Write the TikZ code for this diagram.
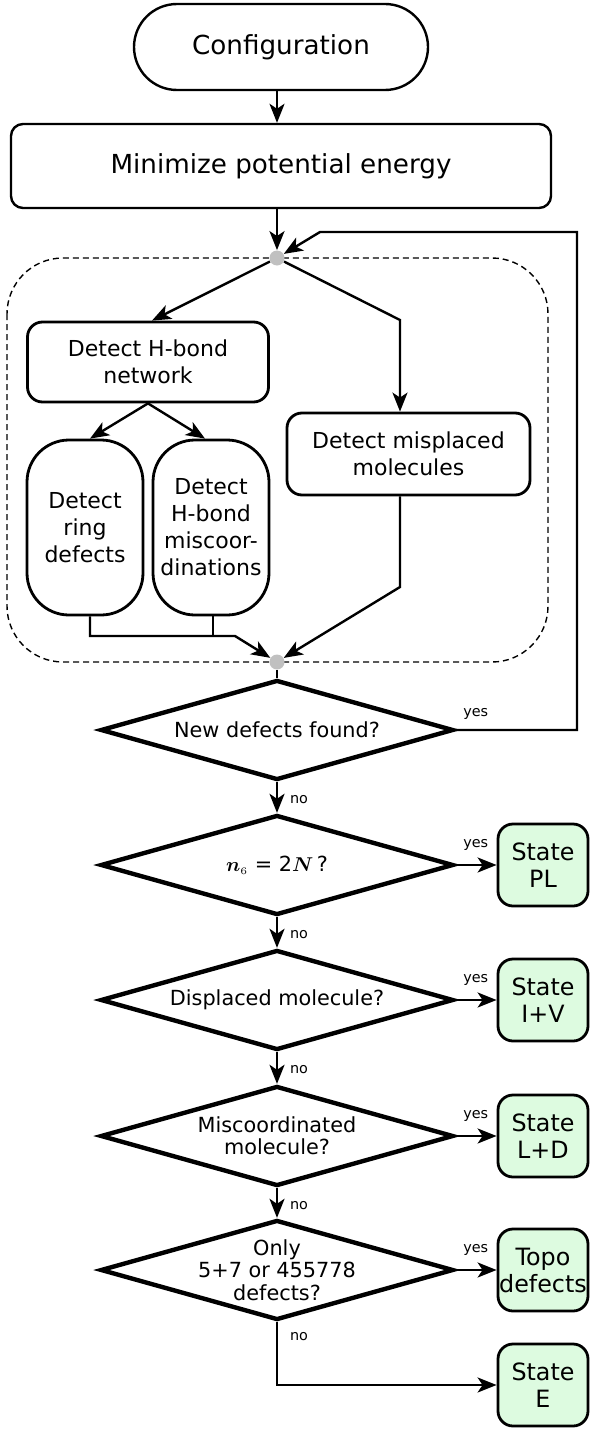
\documentclass[tikz,border=0pt]{standalone}
\usepackage{amsmath,bm}
\usepackage{fontspec}
\setmainfont{DejaVu Sans}
\usepackage{xcolor}
\usepackage{tikz}
\usetikzlibrary{shapes,arrows.meta,calc,positioning}
\definecolor{stategreen}{RGB}{221,251,224}
\definecolor{dotgray}{RGB}{192,192,192}
\newcommand{\fstop}{\fontsize{13.1}{15}\selectfont}
\newcommand{\fsstate}{\fontsize{11.9}{13.5}\selectfont}
\newcommand{\fsmid}{\fontsize{11}{13.5}\selectfont}
\newcommand{\fsdec}{\fontsize{10.4}{11.2}\selectfont}
\newcommand{\fssmall}{\fontsize{7.2}{8}\selectfont}
\tikzset{
  conn/.style={line width=1.2pt,-{Stealth[length=9.5pt,width=7.5pt,inset=2.5pt]}},
  plain/.style={line width=1.2pt},
  startbox/.style={draw,line width=1.2pt,rounded corners=21.5pt,minimum width=147pt,minimum height=43pt,font=\fstop},
  procbox/.style={draw,line width=1.2pt,rounded corners=6pt,minimum width=270pt,minimum height=42pt,font=\fstop},
  detbox/.style={draw,line width=1.4pt,rounded corners=7.5pt,align=center,font=\fsmid},
  tallbox/.style={draw,line width=1.4pt,rounded corners=21pt,align=center,font=\fsmid,minimum width=58pt,minimum height=87.5pt,inner sep=1pt},
  decision/.style={draw,diamond,line width=2.2pt,minimum width=176.5pt,minimum height=50pt,inner sep=0pt},
  dtext/.style={align=center,font=\fsdec,inner sep=0pt},
  statebox/.style={draw,line width=1.4pt,rounded corners=7.5pt,fill=stategreen,align=center,font=\fsstate,minimum width=45pt,minimum height=41pt,inner sep=0pt},
  dot/.style={circle,fill=dotgray,minimum size=7.5pt,inner sep=0pt},
  small/.style={font=\fssmall,inner sep=0pt}
}
\begin{document}
\begin{tikzpicture}[x=0.5pt,y=-0.5pt]
\useasboundingbox (0,0) rectangle (589,1429);
% detection block frame
\draw[dash pattern=on 3pt off 2pt,line width=0.7pt,rounded corners=28pt] (7,258) rectangle (548,662);

\node[startbox] (conf) at (281,47) {Configuration};
\node[procbox] (mini) at (281,166) {Minimize potential energy};
\node[dot] (top) at (277,258) {};
\node[dot] (bot) at (277,662) {};
\draw[conn] (conf.south -| top) -- (mini.north -| top);
\draw[conn] (mini.south -| top) -- (top);

% detectors
\node[detbox,minimum width=120.5pt,minimum height=40pt] (hbond) at (148,362) {Detect H-bond\\network};
\node[tallbox] (ring) at (85,527.5) {Detect\\ring\\defects};
\node[tallbox] (misc) at (211,527.5) {Detect\\H-bond\\miscoor-\\dinations};
\node[detbox,minimum width=121.5pt,minimum height=41pt] (displ) at (408.5,454) {Detect misplaced\\molecules};

\coordinate (rbend) at (400,320);
\coordinate (lbend) at (400,587);
\coordinate (join) at (235,636);
\draw[conn] (top) -- ($(hbond.north)+(4,0)$);
\draw[conn] (top) -- (rbend) -- (rbend |- displ.north);
\draw[conn] (hbond.south) -- ($(ring.north)+(5,0)$);
\draw[conn] (hbond.south) -- ($(misc.north)+(-6,0)$);
\draw[conn] ($(ring.south)+(5,0)$) |- (join) -- (bot);
\draw[plain] ($(misc.south)+(2,0)$) -- ($(misc.south |- join)+(2,0)$);
\draw[conn] (displ.south -| lbend) -- (lbend) -- (bot);

% decisions
\node[decision] (d1) at (277,730) {};
\node[dtext] (d1t) at (d1) {New defects found?};
\node[decision] (d2) at (277,865) {};
\node[dtext] (d2t) at (d2) {$\bm{n}_{\scriptscriptstyle 6}$ = 2$\bm{N}$\,?};
\node[decision] (d3) at (277,1000) {};
\node[dtext] (d3t) at (d3) {Displaced molecule?};
\node[decision] (d4) at (277,1136) {};
\node[dtext] (d4t) at (d4) {Miscoordinated\\molecule?};
\node[decision] (d5) at (277,1270) {};
\node[dtext] (d5t) at (d5) {Only\\5+7 or 455778\\defects?};
\draw[plain] (bot) -- (d1.north);

% loop back
\draw[conn] (d1.east) -| (577,232) -- (320,232) -- (top);
\node[small] (yes1) at ($(d1.east)+(20,-16)$) {yes};

% states
\node[statebox] (pl) at (543,865) {State\\PL};
\node[statebox] (iv) at (543,1000) {State\\I+V};
\node[statebox] (ld) at (543,1136) {State\\L+D};
\node[statebox] (topo) at (543,1270) {Topo\\defects};
\node[statebox] (stE) at (543,1385) {State\\E};

\foreach \i/\j in {1/2,2/3,3/4,4/5}{
  \draw[conn] (d\i.south) -- (d\j.north);
  \node[small] (no\i) at ($(d\i.south)+(22,17)$) {no};
}
\foreach \i/\s in {2/pl,3/iv,4/ld,5/topo}{
  \draw[conn] (d\i.east) -- (\s.west);
  \node[small] (yes\i) at ($(d\i.east)+(20,-20)$) {yes};
}
\draw[conn] (d5.south) |- (stE.west);
\node[small] (no5) at ($(d5.south)+(22,14)$) {no};
\end{tikzpicture}
\end{document}
